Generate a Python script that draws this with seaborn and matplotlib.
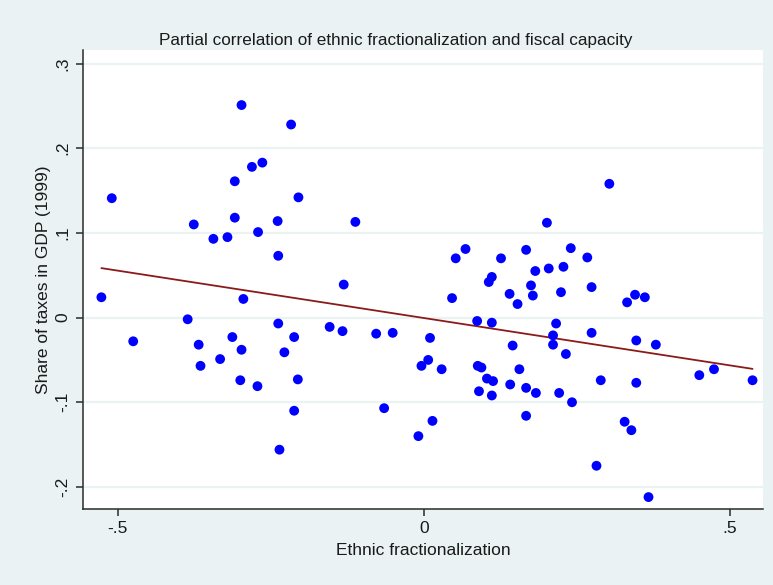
import numpy as np
import pandas as pd
import matplotlib
matplotlib.use("Agg")
import matplotlib.pyplot as plt
import seaborn as sns

# residualised values
ethnic_frac = [
    -0.510, -0.298, -0.217, -0.281, -0.264, -0.309, -0.205, -0.376, -0.309, -0.239,
    -0.112, -0.344, -0.321, -0.271, -0.238, -0.527, -0.295, -0.131, -0.386, -0.475,
    -0.368, -0.365, -0.313, -0.298, -0.333, -0.300, -0.272, -0.238, -0.212, -0.228,
    -0.206, -0.212, -0.236, -0.154, -0.133, -0.078, -0.051, -0.065, -0.009, 0.014,
    0.010, 0.007, -0.004, 0.029, 0.088, 0.094, 0.103, 0.113, 0.090, 0.111,
    0.145, 0.156, 0.141, 0.167, 0.183, 0.167, 0.211, 0.211, 0.232, 0.221,
    0.242, 0.274, 0.289, 0.282, 0.347, 0.379, 0.347, 0.328, 0.339, 0.367,
    0.450, 0.474, 0.537, 0.303, 0.201, 0.068, 0.052, 0.167, 0.240, 0.126,
    0.267, 0.182, 0.204, 0.228, 0.111, 0.106, 0.175, 0.178, 0.140, 0.153,
    0.046, 0.224, 0.274, 0.345, 0.361, 0.332, 0.087, 0.111, 0.216,
]
tax_share = [
    0.141, 0.251, 0.228, 0.178, 0.183, 0.161, 0.142, 0.110, 0.118, 0.114,
    0.113, 0.093, 0.095, 0.101, 0.073, 0.024, 0.022, 0.039, -0.002, -0.028,
    -0.032, -0.057, -0.023, -0.038, -0.049, -0.074, -0.081, -0.007, -0.023, -0.041,
    -0.073, -0.110, -0.156, -0.011, -0.016, -0.019, -0.018, -0.107, -0.140, -0.122,
    -0.024, -0.050, -0.057, -0.061, -0.057, -0.059, -0.072, -0.075, -0.087, -0.092,
    -0.033, -0.061, -0.079, -0.083, -0.089, -0.116, -0.021, -0.032, -0.043, -0.089,
    -0.100, -0.018, -0.074, -0.175, -0.027, -0.032, -0.077, -0.123, -0.133, -0.212,
    -0.068, -0.061, -0.074, 0.158, 0.112, 0.081, 0.070, 0.080, 0.082, 0.070,
    0.071, 0.055, 0.058, 0.060, 0.048, 0.042, 0.038, 0.026, 0.028, 0.016,
    0.023, 0.030, 0.036, 0.027, 0.024, 0.018, -0.004, -0.006, -0.007,
]
x_ticks = [-0.5, 0, 0.5]
x_ticklabels = ["-.5", "0", ".5"]
y_ticks = [-0.2, -0.1, 0, 0.1, 0.2, 0.3]
y_ticklabels = ["-.2", "-.1", "0", ".1", ".2", ".3"]

df = pd.DataFrame({"ethnic": ethnic_frac, "tax": tax_share})

sns.set_theme(style="white")
plt.rcParams["font.family"] = ["Liberation Sans", "DejaVu Sans"]

bg = "#eaf2f3"
fig = plt.figure(figsize=(7.73, 5.85), dpi=100, facecolor=bg)
ax = fig.add_axes([0.1074, 0.13, 0.8796, 0.7845])
ax.set_facecolor("white")

sns.scatterplot(data=df, x="ethnic", y="tax", ax=ax, color="#0000ff",
                s=50, edgecolor="none", zorder=3)
sns.regplot(data=df, x="ethnic", y="tax", ax=ax, scatter=False, ci=None,
            truncate=True, line_kws={"color": "#8b1a1a", "lw": 1.3, "zorder": 2})

ax.set_xlim(-0.557, 0.554)
ax.set_ylim(-0.226, 0.316)
ax.set_xticks(x_ticks)
ax.set_xticklabels(x_ticklabels)
ax.set_yticks(y_ticks)
ax.set_yticklabels(y_ticklabels, rotation=90, va="center")
ax.yaxis.grid(True, color=bg, lw=1.6)
ax.set_axisbelow(True)

for side in ["top", "right"]:
    ax.spines[side].set_visible(False)
for side in ["left", "bottom"]:
    ax.spines[side].set_color("#2b2b2b")
    ax.spines[side].set_linewidth(1.1)
ax.tick_params(axis="both", direction="out", length=5, width=1.1,
               color="#2b2b2b", labelsize=12.5, labelcolor="#1a1a1a", pad=4,
               bottom=True, left=True)

ax.set_xlabel("Ethnic fractionalization", fontsize=12.5, color="#1a1a1a", labelpad=5)
ax.set_ylabel("Share of taxes in GDP (1999)", fontsize=12.5, color="#1a1a1a", labelpad=3)

fig.text(0.512, 0.93, "Partial correlation of ethnic fractionalization and fiscal capacity",
         ha="center", va="center", fontsize=12.3, color="#1a1a1a")

fig.savefig("out.png", dpi=100, facecolor=bg)
